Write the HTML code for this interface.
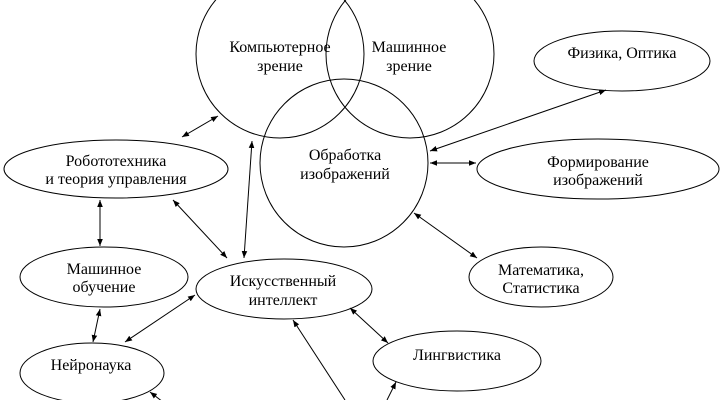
<!DOCTYPE html>
<html><head><meta charset="utf-8"><style>
html,body{margin:0;padding:0;background:#fff;}
svg{display:block}
text{font-family:"Liberation Serif","DejaVu Serif",serif;font-size:16px;fill:#000;text-anchor:middle;}
</style></head><body>
<svg width="721" height="400" viewBox="0 0 721 400" xmlns="http://www.w3.org/2000/svg">
<defs>
<marker id="a" viewBox="0 0 10 10" refX="10" refY="5" markerWidth="7" markerHeight="7" orient="auto-start-reverse" markerUnits="userSpaceOnUse">
<path d="M0,1 L10,5 L0,9 z" fill="#000"/>
</marker>
</defs>
<g fill="none" stroke="#000" stroke-width="1">
<circle cx="280" cy="54" r="84"/>
<circle cx="410" cy="54" r="84"/>
<circle cx="344" cy="163" r="84"/>
<ellipse cx="622" cy="61" rx="88" ry="30"/>
<ellipse cx="598" cy="169" rx="121" ry="30"/>
<ellipse cx="116" cy="169" rx="112" ry="29"/>
<ellipse cx="104" cy="277" rx="84" ry="30"/>
<ellipse cx="284" cy="289" rx="88" ry="30"/>
<ellipse cx="541" cy="277" rx="72" ry="30"/>
<ellipse cx="457" cy="361" rx="84" ry="30"/>
<ellipse cx="92" cy="373" rx="72" ry="30"/>
</g>
<g stroke="#000" stroke-width="1" marker-start="url(#a)" marker-end="url(#a)">
<line x1="182" y1="137" x2="218" y2="116"/>
<line x1="252" y1="141" x2="244" y2="258"/>
<line x1="100" y1="200" x2="100" y2="246"/>
<line x1="173" y1="200" x2="227" y2="258"/>
<line x1="100" y1="309" x2="93" y2="342"/>
<line x1="125" y1="342" x2="195" y2="295"/>
<line x1="350" y1="308" x2="388" y2="343"/>
<line x1="414" y1="213" x2="477" y2="258"/>
<line x1="430" y1="151" x2="606" y2="90"/>
<line x1="430" y1="163" x2="476" y2="163"/>
</g>
<g stroke="#000" stroke-width="1">
<line x1="293" y1="320" x2="345" y2="400" marker-start="url(#a)"/>
<line x1="396" y1="382" x2="387" y2="400" marker-start="url(#a)"/>
<line x1="150" y1="392" x2="163" y2="402" marker-start="url(#a)"/>
</g>
<text x="280" y="52">Компьютерное</text>
<text x="280" y="71">зрение</text>
<text x="409" y="52">Машинное</text>
<text x="409" y="71">зрение</text>
<text x="345" y="160">Обработка</text>
<text x="345" y="179">изображений</text>
<text x="622" y="58">Физика, Оптика</text>
<text x="598" y="167">Формирование</text>
<text x="598" y="185">изображений</text>
<text x="116" y="166">Робототехника</text>
<text x="116" y="184">и теория управления</text>
<text x="104" y="274">Машинное</text>
<text x="104" y="292">обучение</text>
<text x="283" y="286">Искусственный</text>
<text x="283" y="305">интеллект</text>
<text x="541" y="275">Математика,</text>
<text x="541" y="293">Статистика</text>
<text x="457" y="360">Лингвистика</text>
<text x="91" y="370">Нейронаука</text>
</svg>
</body></html>
